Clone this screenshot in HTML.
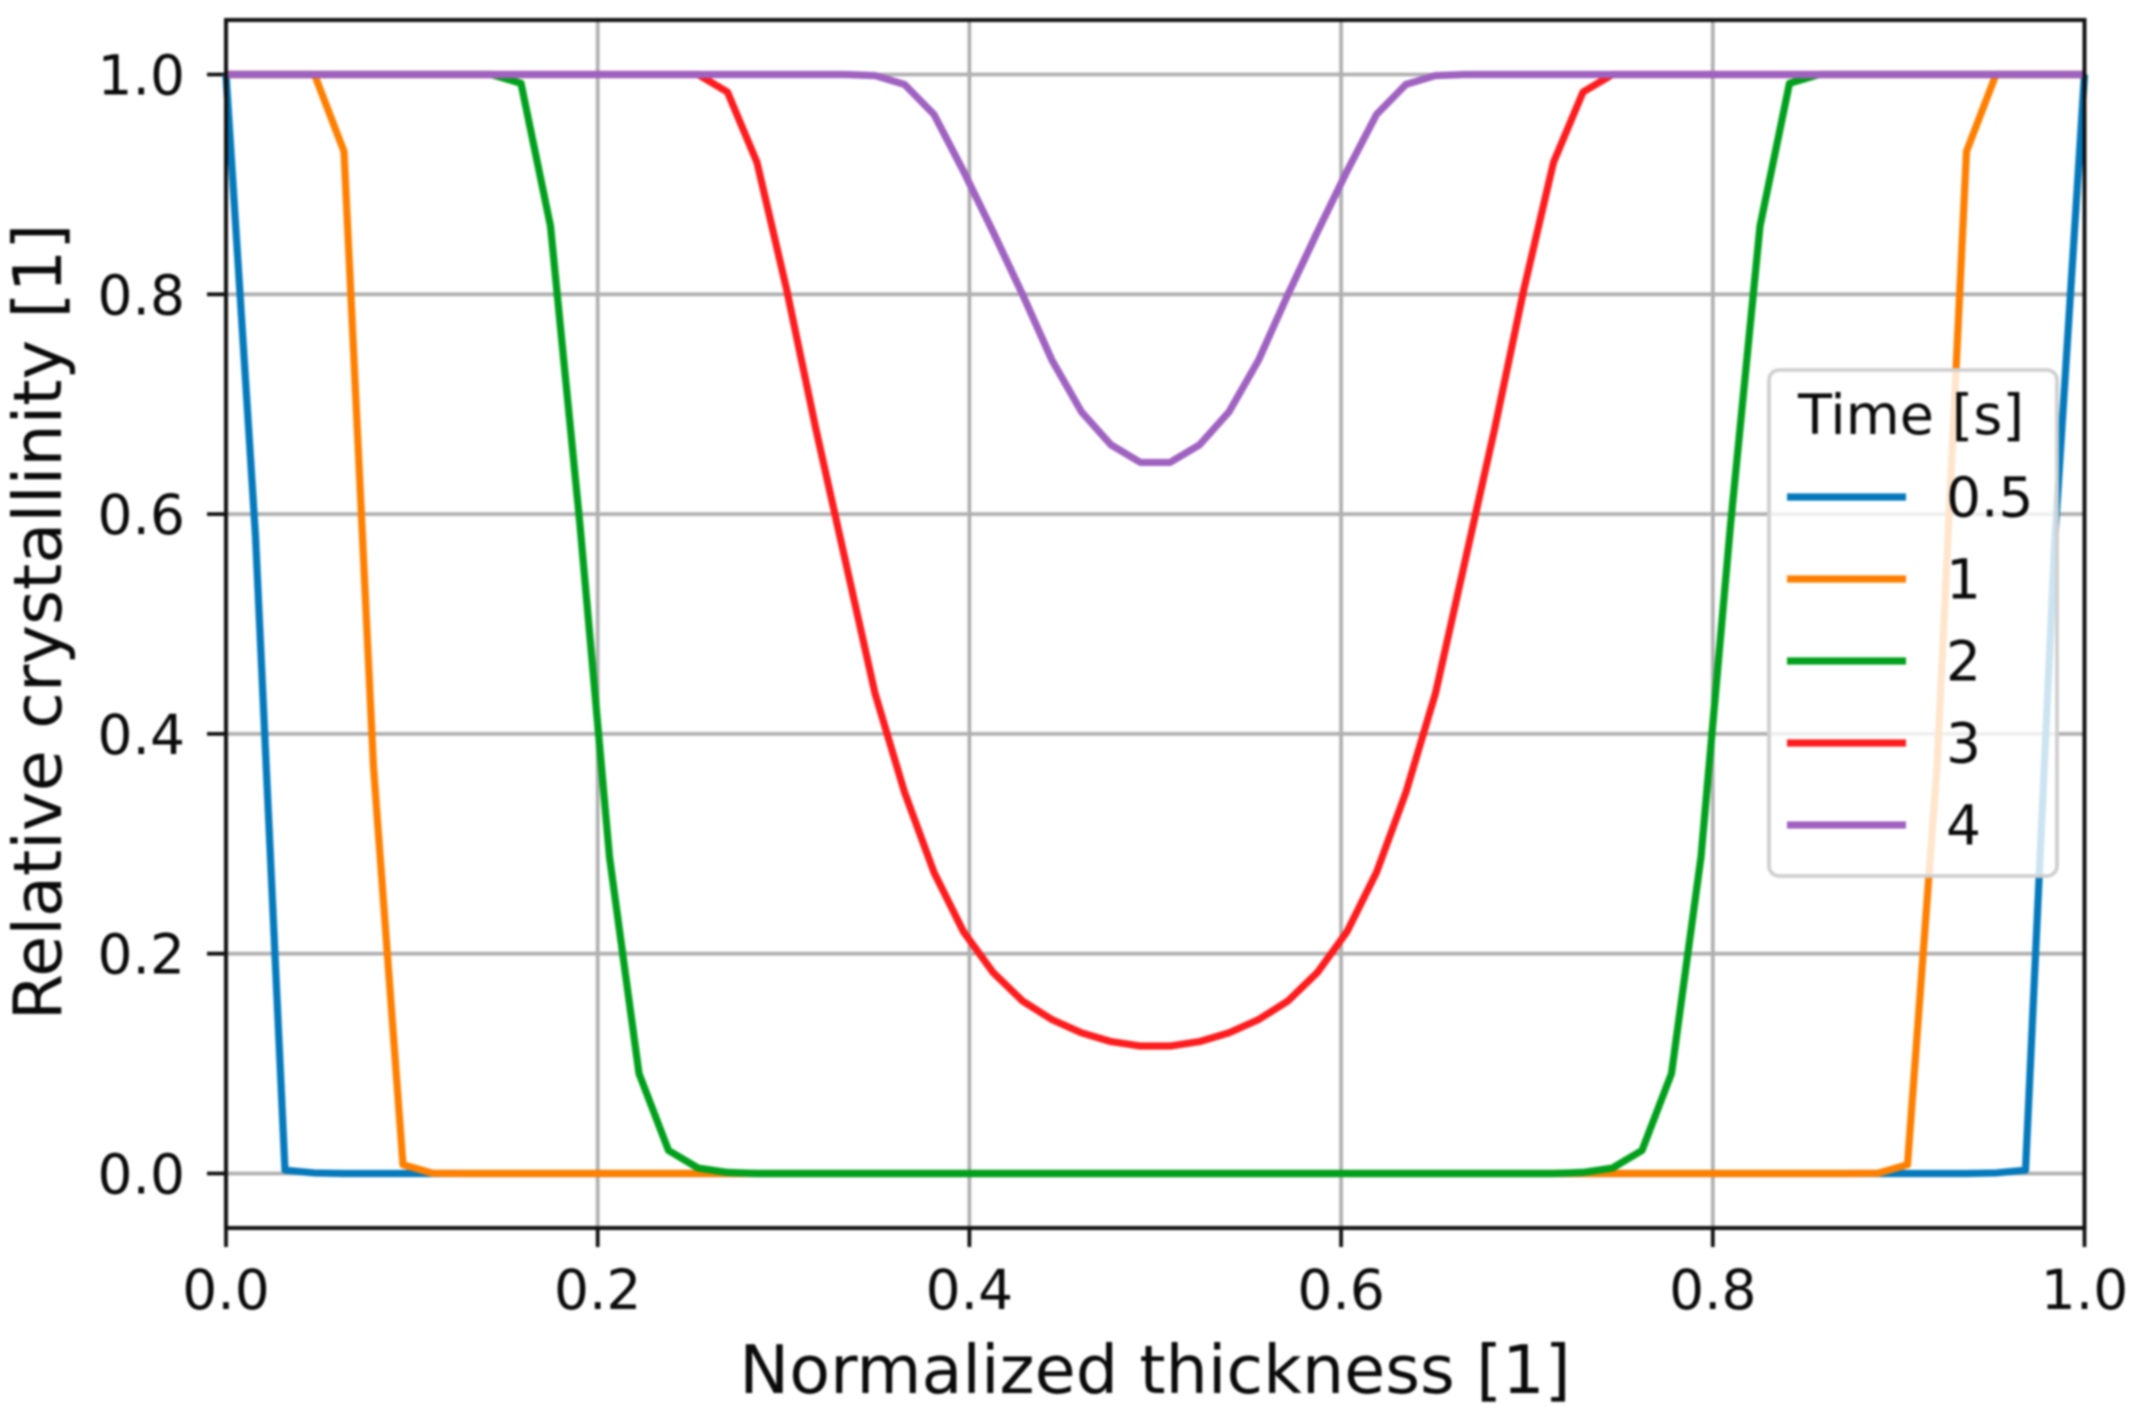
<!DOCTYPE html>
<html lang="en">
<head>
<meta charset="utf-8">
<title>Relative crystallinity vs normalized thickness</title>
<style>
html,body{margin:0;padding:0;background:#fff;width:2134px;height:1411px;overflow:hidden}
svg{display:block;filter:blur(1.05px)}
text{font-family:"DejaVu Sans","Liberation Sans",sans-serif;fill:#0a0a0a}
</style>
</head>
<body>
<svg id="chart" xmlns="http://www.w3.org/2000/svg" width="2134" height="1411" viewBox="0 0 2134 1411"></svg>
<script>
const xTicks = [0.0, 0.2, 0.4, 0.6, 0.8, 1.0];
const yTicks = [0.0, 0.2, 0.4, 0.6, 0.8, 1.0];
const seriesLabels = ['0.5', '1', '2', '3', '4'];
const legendTitle = 'Time [s]';
const xAxisLabel = 'Normalized thickness [1]';
const yAxisLabel = 'Relative crystallinity [1]';
const sampleCount = 64;
const time05 = [1,.58,.003,.0005,
 0,0,0,0,0,0,0,0,0,0,0,0,0,0,0,0,0,0,0,0,0,0,0,0,0,0,0,0,
 0,0,0,0,0,0,0,0,0,0,0,0,0,0,0,0,0,0,0,0,0,0,0,0,0,0,0,0,
 .0005,.003,.58,1];
const time1 = [1,1,1,1,.93,.37,.008,.0003,
 0,0,0,0,0,0,0,0,0,0,0,0,0,0,0,0,0,0,0,0,0,0,0,0,
 0,0,0,0,0,0,0,0,0,0,0,0,0,0,0,0,0,0,0,0,0,0,0,0,
 .0003,.008,.37,.93,1,1,1,1];
const time2 = [1,1,1,1,1,1,1,1,1,1,.992,.862,.59,.288,.091,.021,.005,.001,
 0,0,0,0,0,0,0,0,0,0,0,0,0,0,
 0,0,0,0,0,0,0,0,0,0,0,0,0,0,
 .001,.005,.021,.091,.288,.59,.862,.992,1,1,1,1,1,1,1,1,1,1];
const time3 = [1,1,1,1,1,1,1,1,1,1,1,1,1,1,1,1,1,.984,.92,.805,.677,.557,.437,.347,.274,.22,.183,.157,.14,.128,.12,.116,
 .116,.12,.128,.14,.157,.183,.22,.274,.347,.437,.557,.677,.805,.92,.984,1,1,1,1,1,1,1,1,1,1,1,1,1,1,1,1,1];
const time4 = [1,1,1,1,1,1,1,1,1,1,1,1,1,1,1,1,1,1,1,1,1,1,.999,.991,.9636,.912,.857,.80,.74,.693,.663,.647,
 .647,.663,.693,.74,.80,.857,.912,.9636,.991,.999,1,1,1,1,1,1,1,1,1,1,1,1,1,1,1,1,1,1,1,1,1,1];
const allSeries = [time05, time1, time2, time3, time4];
const seriesColors = ['#0479bb', '#ff7f00', '#00a01c', '#ff1c1e', '#9f62c0'];

const NS = 'http://www.w3.org/2000/svg';
const svg = document.getElementById('chart');
const plot = {left: 226, right: 2084.5, top: 20, bottom: 1228};
function xScale(v){ return 226 + v * (2084.5 - 226); }
function yScale(v){ return 1173.5 - v * (1173.5 - 74.5); }
function make(tag, attrs, text){
  const el = document.createElementNS(NS, tag);
  for (const k in attrs) el.setAttribute(k, attrs[k]);
  if (text !== undefined) el.textContent = text;
  svg.appendChild(el);
  return el;
}

// plot background
let bg = make('rect', {x: plot.left, y: plot.top, width: plot.right - plot.left, height: plot.bottom - plot.top, fill: '#fff'});



// gridlines and ticks
xTicks.forEach(function(t){
  const x = xScale(t);
  const g = make('line', {x1: x, x2: x, y1: plot.top, y2: plot.bottom, stroke: '#b0b0b0', 'stroke-width': 3.8});
  
  
  const m = make('line', {x1: x, x2: x, y1: plot.bottom, y2: plot.bottom + 19, stroke: '#111', 'stroke-width': 3.8});
  
  
  const l = make('text', {x: x, y: 1309, 'font-size': 55, 'text-anchor': 'middle'}, t.toFixed(1));
  
  
});
yTicks.forEach(function(t){
  const y = yScale(t);
  const g = make('line', {x1: plot.left, x2: plot.right, y1: y, y2: y, stroke: '#b0b0b0', 'stroke-width': 3.8});
  
  
  const m = make('line', {x1: plot.left - 19, x2: plot.left, y1: y, y2: y, stroke: '#111', 'stroke-width': 3.8});
  
  
  const l = make('text', {x: 185, y: y + 20, 'font-size': 55, 'text-anchor': 'end'}, t.toFixed(1));
  
  
});

// series
allSeries.forEach(function(values, s){
  const pts = values.map(function(v, i){
    return xScale(i / (sampleCount - 1)).toFixed(2) + ',' + yScale(v).toFixed(2);
  }).join(' ');
  const line = make('polyline', {points: pts, fill: 'none', stroke: seriesColors[s], 'stroke-width': 7.2, 'stroke-linejoin': 'round'});
  
  
});

// spines
let spines = make('rect', {x: plot.left, y: plot.top, width: plot.right - plot.left, height: plot.bottom - plot.top, fill: 'none', stroke: '#111', 'stroke-width': 4});



// axis titles
let xt = make('text', {x: 1155, y: 1393, 'font-size': 66.8, 'text-anchor': 'middle'}, xAxisLabel);


let yt = make('text', {x: 0, y: 0, 'font-size': 67, 'text-anchor': 'middle', transform: 'translate(61 622) rotate(-90)'}, yAxisLabel);



// legend
let box = make('rect', {x: 1769, y: 370, width: 288, height: 506, rx: 10, ry: 10, fill: 'rgba(255,255,255,0.8)', stroke: '#cfcfcf', 'stroke-width': 3.8});


let lt = make('text', {x: 1911, y: 434, 'font-size': 55.6, 'text-anchor': 'middle'}, legendTitle);


seriesLabels.forEach(function(label, i){
  const y = 497 + i * 82;
  const sw = make('line', {x1: 1787, x2: 1906, y1: y, y2: y, stroke: seriesColors[i], 'stroke-width': 7.2});
  
  
  const tx = make('text', {x: 1946, y: y + 19.5, 'font-size': 55}, label);
  
  
});
</script>
</body>
</html>
